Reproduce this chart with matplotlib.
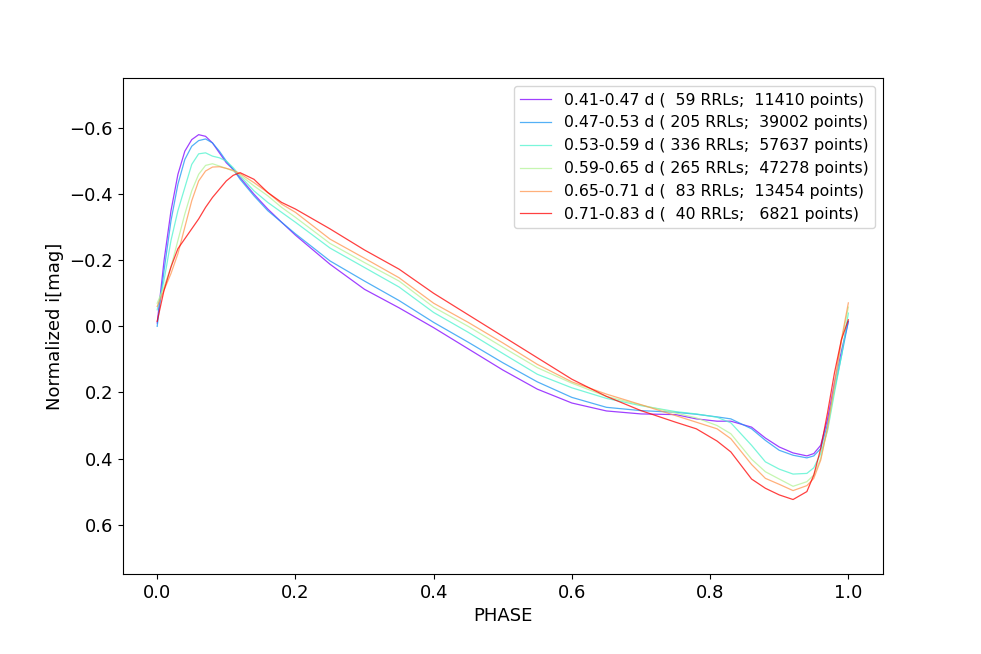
"""
Normalized i-band template light curves binned by pulsation period.
"""

import matplotlib
matplotlib.use("Agg")
import matplotlib.pyplot as plt
import numpy as np

PHASE = [0.00, 0.01, 0.02, 0.03, 0.04, 0.05, 0.06, 0.07, 0.08, 0.09,
         0.10, 0.11, 0.12, 0.14, 0.16, 0.18, 0.20, 0.25, 0.30, 0.35,
         0.40, 0.45, 0.50, 0.55, 0.60, 0.65, 0.70, 0.75, 0.78, 0.81,
         0.83, 0.86, 0.88, 0.90, 0.92, 0.94, 0.95, 0.96, 0.97, 0.98,
         0.99, 1.00]

# period bins, number of stars, number of points
PERIOD_LO = [0.41, 0.47, 0.53, 0.59, 0.65, 0.71]
PERIOD_HI = [0.47, 0.53, 0.59, 0.65, 0.71, 0.83]
N_STARS = [59, 205, 336, 265, 83, 40]
N_POINTS = [11410, 39002, 57637, 47278, 13454, 6821]

MAG_041 = [-0.010, -0.200, -0.350, -0.460, -0.530, -0.565, -0.580, -0.575, -0.555, -0.525,
           -0.495, -0.475, -0.450, -0.400, -0.355, -0.315, -0.276, -0.188, -0.112, -0.056,
           0.004, 0.068, 0.132, 0.190, 0.232, 0.256, 0.265, 0.267, 0.280, 0.287,
           0.287, 0.305, 0.338, 0.365, 0.383, 0.392, 0.385, 0.360, 0.280, 0.170,
           0.075, -0.015]
MAG_047 = [0.000, -0.170, -0.320, -0.430, -0.505, -0.545, -0.562, -0.567, -0.555, -0.530,
           -0.500, -0.475, -0.445, -0.395, -0.350, -0.315, -0.280, -0.198, -0.137, -0.078,
           -0.012, 0.048, 0.110, 0.168, 0.215, 0.245, 0.255, 0.260, 0.266, 0.274,
           0.280, 0.310, 0.345, 0.375, 0.390, 0.398, 0.392, 0.370, 0.295, 0.190,
           0.090, -0.015]
MAG_053 = [-0.050, -0.140, -0.260, -0.350, -0.420, -0.490, -0.522, -0.525, -0.515, -0.510,
           -0.500, -0.480, -0.455, -0.410, -0.375, -0.345, -0.315, -0.237, -0.178, -0.119,
           -0.042, 0.018, 0.082, 0.145, 0.186, 0.218, 0.240, 0.258, 0.265, 0.275,
           0.292, 0.360, 0.410, 0.432, 0.447, 0.445, 0.428, 0.385, 0.315, 0.200,
           0.090, -0.040]
MAG_059 = [-0.070, -0.120, -0.180, -0.260, -0.340, -0.410, -0.460, -0.487, -0.492, -0.485,
           -0.478, -0.470, -0.458, -0.425, -0.395, -0.360, -0.330, -0.251, -0.193, -0.137,
           -0.058, 0.000, 0.063, 0.125, 0.172, 0.212, 0.238, 0.262, 0.277, 0.300,
           0.325, 0.402, 0.440, 0.462, 0.484, 0.470, 0.450, 0.400, 0.310, 0.188,
           0.045, -0.058]
MAG_065 = [-0.060, -0.110, -0.160, -0.220, -0.300, -0.380, -0.440, -0.470, -0.482, -0.483,
           -0.478, -0.472, -0.462, -0.435, -0.405, -0.370, -0.345, -0.264, -0.206, -0.147,
           -0.070, -0.012, 0.050, 0.115, 0.168, 0.205, 0.237, 0.270, 0.290, 0.310,
           0.340, 0.418, 0.460, 0.478, 0.497, 0.482, 0.460, 0.405, 0.305, 0.170,
           0.040, -0.071]
MAG_071 = [-0.015, -0.110, -0.180, -0.235, -0.265, -0.295, -0.325, -0.360, -0.390, -0.415,
           -0.440, -0.457, -0.465, -0.445, -0.405, -0.375, -0.355, -0.295, -0.231, -0.173,
           -0.100, -0.035, 0.030, 0.095, 0.160, 0.212, 0.255, 0.290, 0.310, 0.347,
           0.380, 0.462, 0.490, 0.510, 0.524, 0.500, 0.450, 0.370, 0.260, 0.140,
           0.040, -0.020]

CURVES = [MAG_041, MAG_047, MAG_053, MAG_059, MAG_065, MAG_071]


def main():
    fig, ax = plt.subplots(figsize=(9.81, 6.54), dpi=100)
    fig.subplots_adjust(left=0.125, right=0.9, top=0.88, bottom=0.122)

    colors = plt.cm.rainbow(np.linspace(0, 1, len(CURVES)))
    for i, (mag, color) in enumerate(zip(CURVES, colors)):
        label = (f"{PERIOD_LO[i]:.2f}-{PERIOD_HI[i]:.2f} d "
                 f"({N_STARS[i]:4d} RRLs; {N_POINTS[i]:6d} points)")
        ax.plot(PHASE, mag, color=color, linewidth=0.9, alpha=0.75, label=label)

    ax.set_ylim(0.75, -0.75)
    ax.set_xlabel("PHASE", fontsize=13)
    ax.set_ylabel("Normalized i[mag]", fontsize=13)
    ax.tick_params(labelsize=13)
    ax.legend(loc="upper right", fontsize=11.3)

    fig.savefig("out.png", dpi=100)
    plt.close(fig)


if __name__ == "__main__":
    main()
